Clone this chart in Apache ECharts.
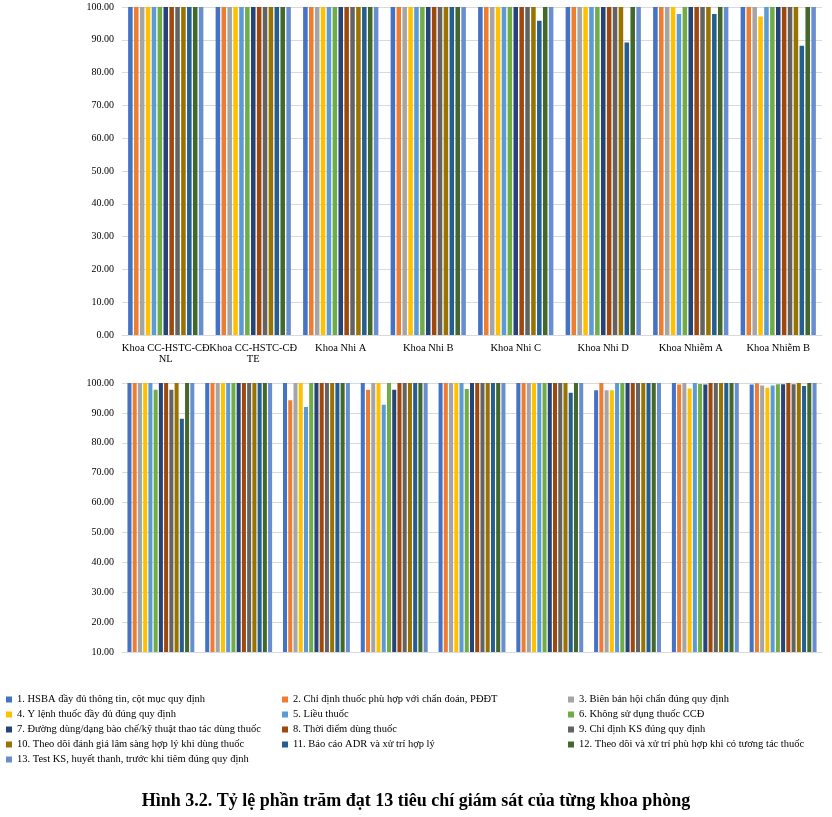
<!DOCTYPE html>
<html><head><meta charset="utf-8">
<script src="https://cdn.jsdelivr.net/npm/echarts@6/dist/echarts.min.js"></script>
<style>body{margin:0;background:#fff}#chart{width:832px;height:817px}</style>
</head><body><div id="chart"></div>
<script>
// category names
const topCats = ['Khoa CC-HSTC-CĐ\nNL', 'Khoa CC-HSTC-CĐ\nTE', 'Khoa Nhi A', 'Khoa Nhi B', 'Khoa Nhi C', 'Khoa Nhi D', 'Khoa Nhiễm A', 'Khoa Nhiễm B'];
const bottomCats = ['', '', '', '', '', '', '', '', ''];
const seriesNames = [
  '1. HSBA đầy đủ thông tin, cột mục quy định',
  '2. Chỉ định thuốc phù hợp với chẩn đoán, PĐĐT',
  '3. Biên bản hội chẩn đúng quy định',
  '4. Y lệnh thuốc đầy đủ đúng quy định',
  '5. Liều thuốc',
  '6. Không sử dụng thuốc CCĐ',
  '7. Đường dùng/dạng bào chế/kỹ thuật thao tác dùng thuốc',
  '8. Thời điểm dùng thuốc',
  '9. Chỉ định KS đúng quy định',
  '10. Theo dõi đánh giá lâm sàng hợp lý khi dùng thuốc',
  '11. Báo cáo ADR và xử trí hợp lý',
  '12. Theo dõi và xử trí phù hợp khi có tương tác thuốc',
  '13. Test KS, huyết thanh, trước khi tiêm đúng quy định'
];
const colors = ['#4472C4', '#ED7D31', '#A5A5A5', '#FFC000', '#5B9BD5', '#70AD47', '#264478', '#9E480E', '#636363', '#997300', '#255E91', '#43682B', '#698ED0'];

// values per series (top chart, 8 departments)
const topValues = [
  [100, 100, 100, 100, 100, 100, 100, 100],
  [100, 100, 100, 100, 100, 100, 100, 100],
  [100, 100, 100, 100, 100, 100, 100, 100],
  [100, 100, 100, 100, 100, 100, 100, 97.1],
  [100, 100, 100, 100, 100, 100, 97.9, 100],
  [100, 100, 100, 100, 100, 100, 100, 100],
  [100, 100, 100, 100, 100, 100, 100, 100],
  [100, 100, 100, 100, 100, 100, 100, 100],
  [100, 100, 100, 100, 100, 100, 100, 100],
  [100, 100, 100, 100, 100, 100, 100, 100],
  [100, 100, 100, 100, 95.8, 89.2, 97.9, 88.2],
  [100, 100, 100, 100, 100, 100, 100, 100],
  [100, 100, 100, 100, 100, 100, 100, 100]
];
// values per series (bottom chart, 9 departments)
const bottomValues = [
  [100, 100, 100, 100, 100, 100, 97.6, 100, 99.5],
  [100, 100, 94.2, 97.7, 100, 100, 100, 99.5, 99.9],
  [100, 100, 100, 100, 100, 100, 97.6, 100, 99.2],
  [100, 100, 100, 100, 100, 100, 97.6, 98.2, 98.4],
  [100, 100, 92.0, 92.7, 100, 100, 100, 100, 99.2],
  [97.7, 100, 100, 100, 98.0, 100, 100, 99.7, 99.6],
  [100, 100, 100, 97.7, 100, 100, 100, 99.5, 99.6],
  [100, 100, 100, 100, 100, 100, 100, 100, 100],
  [97.7, 100, 100, 100, 100, 100, 100, 100, 99.6],
  [100, 100, 100, 100, 100, 100, 100, 100, 100],
  [88.0, 100, 100, 100, 100, 96.7, 100, 100, 99.0],
  [100, 100, 100, 100, 100, 100, 100, 100, 100],
  [100, 100, 100, 100, 100, 100, 100, 100, 100]
];

const font = 'Liberation Serif';
let myChart = echarts.init(document.getElementById('chart'));

const series = [];
seriesNames.forEach(function (name, i) {
  series.push({ name: name, type: 'bar', xAxisIndex: 0, yAxisIndex: 0, data: topValues[i],
    barGap: '30%', barCategoryGap: '14%', itemStyle: { color: colors[i] } });
  series.push({ name: name, type: 'bar', xAxisIndex: 1, yAxisIndex: 1, data: bottomValues[i],
    barGap: '30%', barCategoryGap: '14%', itemStyle: { color: colors[i] } });
});

function legendCol(items, left, width) {
  return {
    orient: 'vertical', left: left, top: 692, width: width, itemGap: 4,
    itemWidth: 6, itemHeight: 6, icon: 'rect', backgroundColor: '#fff',
    padding: [2, 4, 2, 4],
    textStyle: { fontFamily: font, fontSize: 10.5, color: '#000' },
    data: items
  };
}

const yLabel = { fontFamily: font, fontSize: 10, color: '#000', formatter: function (v) { return v.toFixed(2); } };

myChart.setOption({
  animation: false,
  title: {
    text: 'Hình 3.2. Tỷ lệ phần trăm đạt 13 tiêu chí giám sát của từng khoa phòng',
    left: 'center', top: 787,
    textStyle: { fontFamily: font, fontSize: 18, fontWeight: 'bold', color: '#000' }
  },
  legend: [
    legendCol([0, 3, 6, 9, 12].map(function (i) { return seriesNames[i]; }), 2, 270),
    legendCol([1, 4, 7, 10].map(function (i) { return seriesNames[i]; }), 278, 290),
    legendCol([2, 5, 8, 11].map(function (i) { return seriesNames[i]; }), 564, 262)
  ],
  grid: [
    { left: 122, right: 10, top: 7, bottom: 482 },
    { left: 122, right: 10, top: 383, bottom: 165 }
  ],
  xAxis: [
    { type: 'category', gridIndex: 0, data: topCats, axisTick: { show: false },
      axisLine: { lineStyle: { color: '#d9d9d9' } },
      axisLabel: { fontFamily: font, fontSize: 10.5, color: '#000', interval: 0 } },
    { type: 'category', gridIndex: 1, data: bottomCats, axisTick: { show: false },
      axisLine: { lineStyle: { color: '#d9d9d9' } }, axisLabel: { show: false } }
  ],
  yAxis: [
    { type: 'value', gridIndex: 0, min: 0, max: 100, interval: 10, axisLabel: yLabel,
      splitLine: { lineStyle: { color: '#d9d9d9' } } },
    { type: 'value', gridIndex: 1, min: 10, max: 100, interval: 10, axisLabel: yLabel,
      splitLine: { lineStyle: { color: '#d9d9d9' } } }
  ],
  series: series
});
</script></body></html>
